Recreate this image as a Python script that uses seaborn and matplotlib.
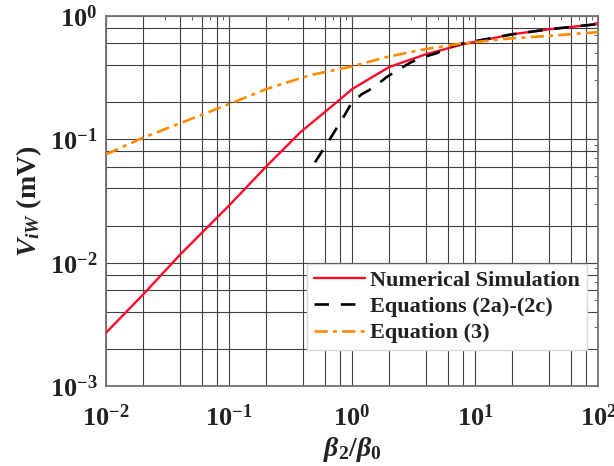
import numpy as np
import pandas as pd
import matplotlib
matplotlib.use("Agg")
import matplotlib.pyplot as plt
import matplotlib.ticker as mticker
import seaborn as sns

# ---- data ----
x_sim = [0.01, 0.02, 0.04, 0.1, 0.2, 0.38, 0.6, 0.8, 1.0, 2.0, 4.0, 8.0, 20, 40, 100]
y_sim = [0.0027, 0.0055, 0.0116, 0.029, 0.06, 0.114, 0.166, 0.211, 0.255, 0.385, 0.49, 0.59, 0.71, 0.78, 0.86]

x_eq2 = [0.5, 0.66, 0.88, 1.0, 1.2, 1.5, 1.9, 2.3, 3.0, 3.7, 4.9, 5.9, 8, 20, 40, 100]
y_eq2 = [0.065, 0.1, 0.16, 0.2, 0.232, 0.263, 0.318, 0.359, 0.42, 0.46, 0.50, 0.556, 0.6, 0.71, 0.78, 0.86]

x_eq3 = [0.01, 0.02, 0.1, 0.2, 0.45, 1, 2, 4, 8, 20, 40, 100]
y_eq3 = [0.0755, 0.103, 0.193, 0.255, 0.33, 0.39, 0.47, 0.54, 0.60, 0.66, 0.69, 0.74]

labels = ["Numerical Simulation", "Equations (2a)-(2c)", "Equation (3)"]
x_ticks = [1e-2, 1e-1, 1e0, 1e1, 1e2]
y_ticks = [1e-3, 1e-2, 1e-1, 1e0]

sns.set_theme(style="white")
plt.rcParams["font.family"] = ["Liberation Serif", "DejaVu Serif"]
plt.rcParams["font.weight"] = "bold"
plt.rcParams["mathtext.fontset"] = "custom"
plt.rcParams["mathtext.rm"] = "Liberation Serif:bold"
plt.rcParams["mathtext.it"] = "Liberation Serif:italic:bold"
plt.rcParams["mathtext.bf"] = "Liberation Serif:bold"

df = pd.concat([
    pd.DataFrame({"x": x_sim, "y": y_sim, "s": labels[0]}),
    pd.DataFrame({"x": x_eq2, "y": y_eq2, "s": labels[1]}),
    pd.DataFrame({"x": x_eq3, "y": y_eq3, "s": labels[2]}),
])

fig = plt.figure(figsize=(6.14, 4.66), dpi=100)
ax = fig.add_axes([0.1726, 0.1717, 0.8014, 0.794])
ax.set_xscale("log")
ax.set_yscale("log")

styles = {labels[0]: dict(color="#ff0a2a", ls="-", lw=1.7),
          labels[1]: dict(color="black", ls=(0, (5.5, 4.5)), lw=1.9),
          labels[2]: dict(color="#ff8c00", ls=(0, (5, 2, 1.5, 2)), lw=1.9)}
for lab in labels:
    sub = df[df["s"] == lab]
    sns.lineplot(data=sub, x="x", y="y", ax=ax, label=lab, estimator=None,
                 sort=False, zorder=3, **styles[lab])

ax.set_xlim(1e-2, 1e2)
ax.set_ylim(1e-3, 1e0)
ax.set_xticks(x_ticks)
ax.set_yticks(y_ticks)
ax.xaxis.set_minor_locator(mticker.LogLocator(base=10, subs=np.arange(2, 10)))
ax.yaxis.set_minor_locator(mticker.LogLocator(base=10, subs=np.arange(2, 10)))
ax.xaxis.set_minor_formatter(mticker.NullFormatter())
ax.yaxis.set_minor_formatter(mticker.NullFormatter())

# grid: decades plus 2,4,6,8 in each decade
gc = "0.25"
ax.grid(True, which="major", color=gc, lw=0.8, zorder=1)
for d in [1e-2, 1e-1, 1e0, 1e1]:
    for m in [2, 4, 6, 8]:
        ax.axvline(d * m, color=gc, lw=0.8, zorder=1)
for d in [1e-3, 1e-2, 1e-1]:
    for m in [2, 4, 6, 8]:
        ax.axhline(d * m, color=gc, lw=0.8, zorder=1)
ax.set_axisbelow(True)

ax.tick_params(which="both", direction="in", top=True, right=True, colors="0.3",
               labelcolor="#222222")
ax.tick_params(which="major", length=5, width=0.8, labelsize=19)
ax.tick_params(axis="x", which="major", pad=13)
ax.tick_params(axis="y", which="major", pad=6)
ax.tick_params(which="minor", length=3, width=0.6)
for sp in ax.spines.values():
    sp.set_color("0.45")
    sp.set_linewidth(1.3)

ax.set_xlabel(r"$\beta_2/\beta_0$", fontsize=20, labelpad=3, color="#222222")
ax.set_ylabel(r"$V_{iW}$ (mV)", fontsize=20, fontweight="bold", labelpad=4, color="#222222")

leg = ax.legend(loc="lower right", bbox_to_anchor=(0.9776, 0.0973), borderaxespad=0,
                fontsize=16, frameon=True, fancybox=False, framealpha=1,
                edgecolor="0.85", handlelength=2.3, handletextpad=0.25,
                labelspacing=0.25, borderpad=0.3)
for t in leg.get_texts():
    t.set_fontweight("bold")
    t.set_color("#222222")
leg.set_zorder(5)

fig.savefig("out.png", dpi=100)
